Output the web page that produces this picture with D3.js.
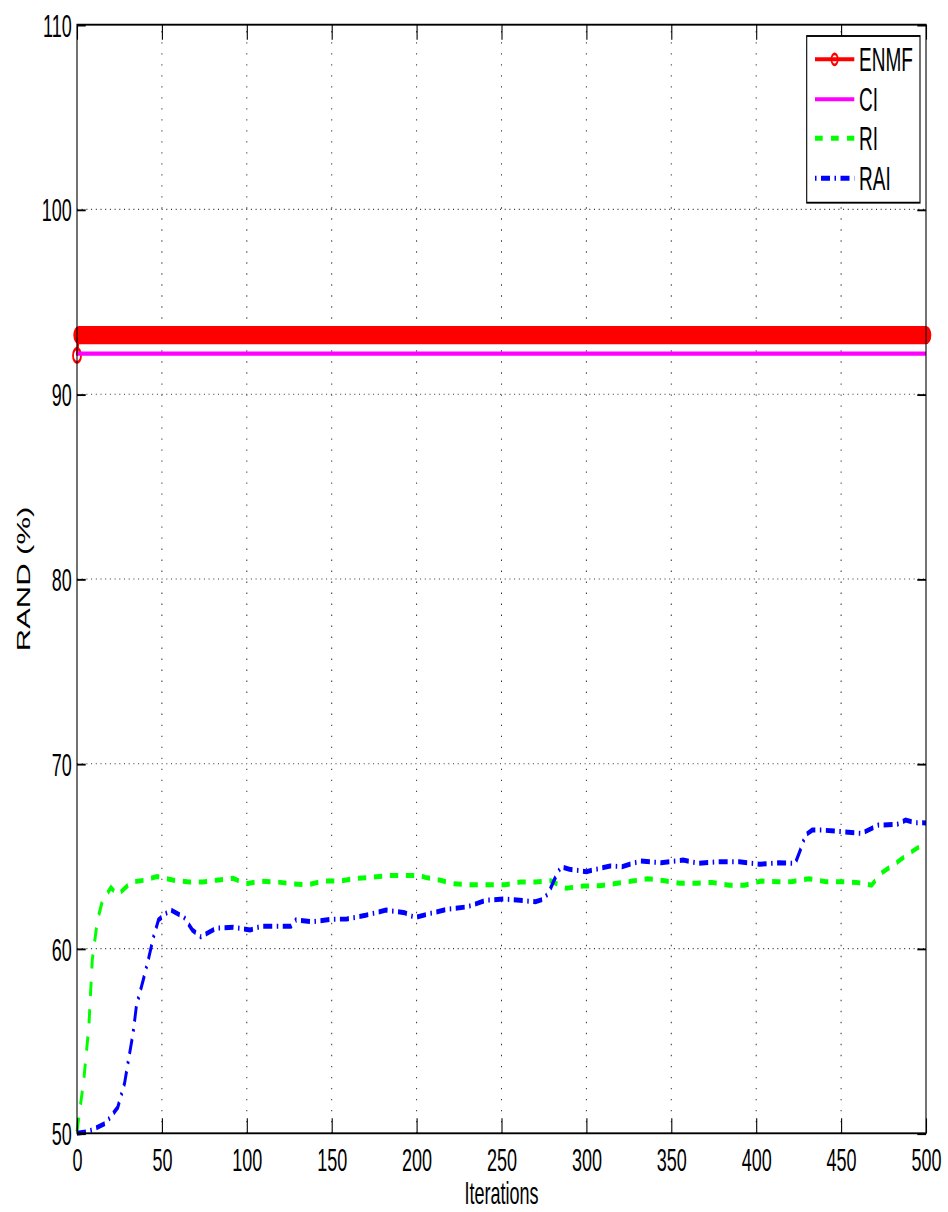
<!DOCTYPE html>
<html>
<head>
<meta charset="utf-8">
<script src="https://cdn.jsdelivr.net/npm/d3@7"></script>
<style>
  html, body { margin: 0; padding: 0; background: #fff; }
  svg { display: block; }
  text { font-family: "Liberation Sans", Arial, Helvetica, sans-serif; fill: #000; }
</style>
</head>
<body>
<div id="chart"></div>
<script>
// ---- data ----
var xTicks = [0, 50, 100, 150, 200, 250, 300, 350, 400, 450, 500];
var yTicks = [50, 60, 70, 80, 90, 100, 110];

var enmfIter = [0, 1, 500];
var enmfVal  = [92.1, 93.2, 93.2];

var ciIter = [0, 500];
var ciVal  = [92.2, 92.2];

var riIter = [0,4,7,9,12,15,20,24,32,40,47,57,66,74,82,92,99,108,118,127,136,145,155,164,173,183,192,202,205,214,222,232,242,252,261,270,279,288,298,308,318,327,336,346,355,365,374,384,393,403,413,421,431,441,450,459,468,474,482,490,497,500];
var riVal  = [50.1,52.9,55.8,59.4,61.5,62.6,63.3,62.9,63.6,63.7,63.9,63.7,63.6,63.6,63.7,63.8,63.5,63.65,63.6,63.5,63.45,63.65,63.65,63.8,63.85,63.95,63.95,63.95,63.85,63.7,63.5,63.45,63.45,63.45,63.6,63.6,63.67,63.26,63.38,63.4,63.53,63.65,63.78,63.67,63.53,63.53,63.58,63.42,63.42,63.65,63.62,63.62,63.78,63.62,63.62,63.58,63.43,64.1,64.6,65.15,65.56,65.6];

var raiIter = [0,7,17,24,28,30,33,35,39,42,45,48,55,63,68,73,82,92,102,108,118,126,129,139,149,159,170,182,193,199,208,218,230,241,252,263,270,275,278,281,285,290,300,308,314,321,332,344,357,366,378,390,402,413,423,426,429,433,439,451,462,472,483,488,494,500];
var raiVal  = [50.0,50.1,50.55,51.4,52.7,53.8,55.4,56.9,58.3,59.4,60.6,61.55,62.1,61.7,61.0,60.64,61.1,61.15,61.0,61.2,61.2,61.2,61.55,61.45,61.58,61.6,61.8,62.08,61.94,61.67,61.9,62.12,62.26,62.62,62.68,62.59,62.53,62.68,63.07,63.7,64.43,64.29,64.16,64.34,64.47,64.43,64.74,64.64,64.79,64.61,64.7,64.7,64.56,64.64,64.61,65.33,66.14,66.41,66.41,66.32,66.23,66.68,66.72,66.95,66.81,66.8];

var legendNames = ["ENMF", "CI", "RI", "RAI"];

// ---- layout ----
var W = 948, H = 1212;
var S = 1.72;              // the figure is stretched vertically
var plotL = 77, plotR = 926, plotT = 24.7, plotB = 1133.3;
var tickLen = 8.7;

var svg = d3.select("#chart").append("svg")
    .attr("width", W)
    .attr("height", H);

var g = svg.append("g").attr("transform", "scale(1," + S + ")");

var x = d3.scaleLinear().domain([0, 500]).range([plotL, plotR]);
var y = d3.scaleLinear().domain([50, 110]).range([plotB / S, plotT / S]);

// dotted grid
var grid = g.append("g").attr("class", "grid");
grid.selectAll("line.gx")
    .data(xTicks.slice(1, -1))
    .enter().append("line")
    .attr("x1", function (d) { return x(d); })
    .attr("x2", function (d) { return x(d); })
    .attr("y1", y(50)).attr("y2", y(110))
    .attr("stroke", "#333")
    .attr("stroke-width", 1)
    .attr("stroke-dasharray", "0.8,5.6");
grid.selectAll("line.gy")
    .data(yTicks.slice(1, -1))
    .enter().append("line")
    .attr("x1", x(0)).attr("x2", x(500))
    .attr("y1", function (d) { return y(d); })
    .attr("y2", function (d) { return y(d); })
    .attr("stroke", "#333")
    .attr("stroke-width", 0.7)
    .attr("stroke-dasharray", "1,3.7");

function zip(a, b) { return a.map(function (v, i) { return [v, b[i]]; }); }

var line = d3.line()
    .x(function (d) { return x(d[0]); })
    .y(function (d) { return y(d[1]); });

// ENMF: red line with circle markers (dense markers form a solid band)
var enmf = zip(enmfIter, enmfVal);
g.append("path")
    .attr("d", line(enmf))
    .attr("fill", "none")
    .attr("stroke", "#ff0000")
    .attr("stroke-width", 2.3);
g.append("path")
    .attr("d", line(enmf.slice(1)))
    .attr("fill", "none")
    .attr("stroke", "#ff0000")
    .attr("stroke-width", 10.6)
    .attr("stroke-linecap", "round");
g.selectAll("circle.enmf")
    .data(enmf)
    .enter().append("circle")
    .attr("cx", function (d) { return x(d[0]); })
    .attr("cy", function (d) { return y(d[1]); })
    .attr("r", 4)
    .attr("fill", "none")
    .attr("stroke", "#ff0000")
    .attr("stroke-width", 1.8);

// CI
g.append("path")
    .attr("d", line(zip(ciIter, ciVal)))
    .attr("fill", "none")
    .attr("stroke", "#ff00ff")
    .attr("stroke-width", 2.4);

// RI dashed
g.append("path")
    .attr("d", line(zip(riIter, riVal)))
    .attr("fill", "none")
    .attr("stroke", "#00ff00")
    .attr("stroke-width", 2.9)
    .attr("stroke-dasharray", "8.3,7.7");

// RAI dash-dot
g.append("path")
    .attr("d", line(zip(raiIter, raiVal)))
    .attr("fill", "none")
    .attr("stroke", "#0000ff")
    .attr("stroke-width", 2.9)
    .attr("stroke-dasharray", "9,4.5,1.5,4.5");

// axes box
g.append("rect")
    .attr("x", x(0)).attr("y", y(110))
    .attr("width", x(500) - x(0))
    .attr("height", y(50) - y(110))
    .attr("fill", "none")
    .attr("stroke", "#000")
    .attr("stroke-width", 1.1);

function styleAxis(sel) {
    sel.select(".domain").remove();
    sel.selectAll(".tick line").attr("stroke", "#000").attr("stroke-width", 1.1);
    sel.selectAll("text")
        .attr("font-family", "Liberation Sans, Arial, Helvetica, sans-serif")
        .attr("font-size", 18)
        .attr("fill", "#000");
}

g.append("g")
    .attr("transform", "translate(0," + y(50) + ")")
    .call(d3.axisBottom(x).tickValues(xTicks).tickSizeInner(-tickLen).tickSizeOuter(0).tickPadding(9))
    .call(styleAxis);

g.append("g")
    .attr("transform", "translate(0," + y(110) + ")")
    .call(d3.axisTop(x).tickValues(xTicks).tickSizeInner(-tickLen).tickSizeOuter(0).tickFormat(""))
    .call(styleAxis);

g.append("g")
    .attr("transform", "translate(" + x(0) + ",0)")
    .call(d3.axisLeft(y).tickValues(yTicks).tickSizeInner(-tickLen).tickSizeOuter(0).tickPadding(5.3))
    .call(styleAxis)
    .selectAll("text").attr("dy", "0.36em");

g.append("g")
    .attr("transform", "translate(" + x(500) + ",0)")
    .call(d3.axisRight(y).tickValues(yTicks).tickSizeInner(-tickLen).tickSizeOuter(0).tickFormat(""))
    .call(styleAxis);

// axis titles
g.append("text")
    .attr("x", (plotL + plotR) / 2)
    .attr("y", 1204 / S)
    .attr("text-anchor", "middle")
    .attr("font-size", 18)
    .text("Iterations");

g.append("text")
    .attr("transform", "translate(30," + ((plotT + plotB) / 2) / S + ") rotate(-90)")
    .attr("text-anchor", "middle")
    .attr("font-size", 18)
    .text("RAND (%)");

// legend
var lg = g.append("g").attr("class", "legend");
lg.append("rect")
    .attr("x", 806.7).attr("y", 36 / S)
    .attr("width", 920 - 806.7)
    .attr("height", (202.7 - 36) / S)
    .attr("fill", "#fff")
    .attr("stroke", "#000")
    .attr("stroke-width", 1.1);

var legendY = [59.3, 99.3, 138.3, 178.3].map(function (v) { return v / S; });
var legendStyle = [
    { color: "#ff0000", width: 2.3, dash: null },
    { color: "#ff00ff", width: 2.4, dash: null },
    { color: "#00ff00", width: 2.9, dash: "7.7,8.3" },
    { color: "#0000ff", width: 2.9, dash: "1.5,4.5,9,4.5" }
];

legendNames.forEach(function (name, i) {
    var st = legendStyle[i];
    lg.append("line")
        .attr("x1", 815).attr("x2", 854.3)
        .attr("y1", legendY[i]).attr("y2", legendY[i])
        .attr("stroke", st.color)
        .attr("stroke-width", st.width)
        .attr("stroke-dasharray", st.dash);
    if (i === 0) {
        lg.append("circle")
            .attr("cx", 834.6).attr("cy", legendY[i])
            .attr("r", 3.2)
            .attr("fill", "none")
            .attr("stroke", st.color)
            .attr("stroke-width", 1.6);
    }
    lg.append("text")
        .attr("x", 859)
        .attr("y", legendY[i])
        .attr("dy", "0.36em")
        .attr("font-size", 19)
        .text(name);
});
</script>
</body>
</html>
